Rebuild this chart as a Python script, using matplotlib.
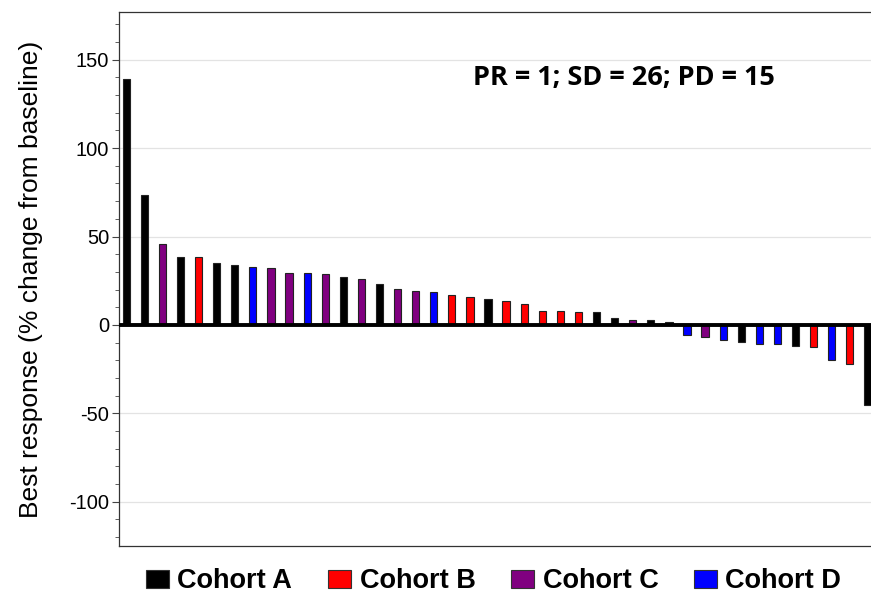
import matplotlib.pyplot as plt
from matplotlib.patches import Patch
from matplotlib.ticker import MultipleLocator

plt.rcParams['axes.unicode_minus'] = False

# Waterfall: best response per patient, sorted
values = [139, 73.4, 45.8, 38.3, 38.3, 34.9, 33.9, 32.6, 32.4, 29.5, 29.5, 28.7,
          27.2, 25.7, 23.4, 20.3, 19.3, 18.8, 17.0, 15.7, 14.9, 13.4, 11.9, 8.0,
          8.0, 7.3, 7.5, 3.8, 3.0, 3.0, 1.5, -5.5, -7.0, -8.5, -9.5, -10.5, -11,
          -12, -12.5, -20, -22, -45]
cohorts = ['A', 'A', 'C', 'A', 'B', 'A', 'A', 'D', 'C', 'C', 'D', 'C',
           'A', 'C', 'A', 'C', 'C', 'D', 'B', 'B', 'A', 'B', 'B', 'B',
           'B', 'B', 'A', 'A', 'C', 'A', 'A', 'D', 'C', 'D', 'A', 'D', 'D',
           'A', 'B', 'D', 'B', 'A']
cohort_names = ['A', 'B', 'C', 'D']
cohort_colors = {'A': '#000000', 'B': '#ff0000', 'C': '#800080', 'D': '#0000ff'}
summary_text = 'PR = 1; SD = 26; PD = 15'

fig = plt.figure(figsize=(8.71, 5.98), dpi=100)
ax = fig.add_axes([0.1366, 0.087, 0.8634, 0.893])

x = range(len(values))
colors = [cohort_colors[c] for c in cohorts]
ax.bar(x, values, width=0.4, color=colors, edgecolor='#222222', linewidth=0.8, zorder=3)

ax.axhline(0, color='black', linewidth=2.8, zorder=4)

ax.set_ylim(-125, 177)
ax.set_xlim(-0.4, len(values) - 0.83)
ax.yaxis.set_major_locator(MultipleLocator(50))
ax.yaxis.set_minor_locator(MultipleLocator(10))
ax.grid(axis='y', which='major', color='#e3e3e3', linewidth=0.9, zorder=0)
ax.set_xticks([])
ax.tick_params(axis='y', which='major', length=5, labelsize=14.5, color='#444444', pad=2)
ax.tick_params(axis='y', which='minor', length=3, color='#444444')
for lab in ax.get_yticklabels():
    lab.set_family(['Liberation Sans', 'DejaVu Sans'])

for side in ['left', 'top', 'bottom']:
    ax.spines[side].set_color('#333333')
    ax.spines[side].set_linewidth(0.9)
ax.spines['right'].set_visible(False)

ax.set_ylabel('Best response (% change from baseline)', fontsize=19,
              family=['Liberation Sans', 'DejaVu Sans'], labelpad=19)

ax.text(0.671, 0.877, summary_text, transform=ax.transAxes, ha='center', va='center',
        fontsize=19.5, fontweight='bold', family=['Open Sans', 'DejaVu Sans'])

handles = [Patch(facecolor=cohort_colors[c], edgecolor='#333333', linewidth=0.8)
           for c in cohort_names]
labels = ['Cohort ' + c for c in cohort_names]
fig.legend(handles, labels, loc='center', bbox_to_anchor=(0.567, 0.028), ncol=4,
           frameon=False, handlelength=0.85, handleheight=0.65, handletextpad=0.3,
           columnspacing=1.33, prop={'family': 'Liberation Sans', 'weight': 'bold', 'size': 19.5})

plt.savefig('out.png', dpi=100)
plt.close()
